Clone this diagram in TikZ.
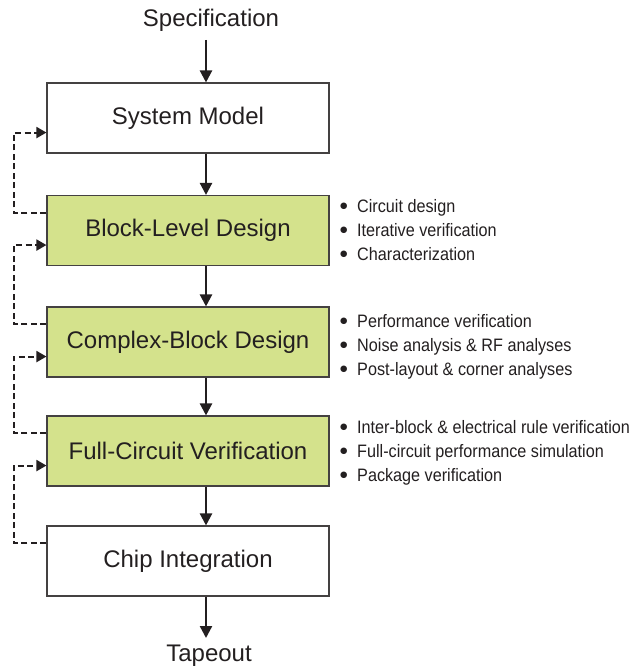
\documentclass[tikz,border=0pt]{standalone}
\usepackage{fontspec}
\setmainfont{Liberation Sans}
\newfontfamily\narrowfont{Liberation Sans}[FakeStretch=0.9]
\newfontfamily\symbolfont{DejaVu Sans}
\usetikzlibrary{arrows.meta,calc}
\definecolor{ink}{HTML}{231F20}
\definecolor{leaf}{RGB}{212,226,140}
\newcommand{\itemdot}{\makebox[17.5pt][l]{\hspace{0.5pt}\raisebox{3.6pt}{\symbolfont\fontsize{8.5}{8.5}\selectfont ●}}}
\tikzset{
  x=1pt, y=-1pt,
  stage/.style={draw=ink!85, line width=1.1pt, minimum width=282pt, minimum height=70pt,
    inner sep=0pt, font=\fontsize{24}{28}\selectfont, text=ink},
  greenstage/.style={stage, fill=leaf},
  endlabel/.style={font=\fontsize{24}{28}\selectfont, text=ink, inner sep=0pt},
  flow/.style={draw=ink, line width=2.3pt, -{Triangle[length=12pt,width=12pt]}},
  feedback/.style={draw=ink, line width=2pt, dash pattern=on 6pt off 3.5pt,
    -{Triangle[length=10pt,width=11pt]}},
  note/.style={anchor=base west, inner sep=0pt, text=ink,
    font=\narrowfont\fontsize{18}{20}\selectfont},
}
\begin{document}
\begin{tikzpicture}
\useasboundingbox (0,0) rectangle (644,669);

% main column of stages
\node[endlabel] (spec) at (211,20) {Specification};
\node[stage]      (sys)  at (188,118)   {System Model};
\node[greenstage] (blk)  at (188,230.5) {Block-Level Design};
\node[greenstage] (cplx) at (188,342)   {Complex-Block Design};
\node[greenstage] (full) at (188,451)   {Full-Circuit Verification};
\node[stage]      (chip) at (188,561)   {Chip Integration};
\node[endlabel] (tape) at (209,656) {Tapeout};

% vertical axis of the forward arrows and the feedback rail
\coordinate (ax) at (206,0);
\coordinate (rail) at (14,0);
\coordinate (specend) at (206,40);
\coordinate (tapeend) at (206,638);

\draw[flow] (specend) -- (sys.north -| ax);
\draw[flow] (sys.south -| ax) -- (blk.north -| ax);
\draw[flow] (blk.south -| ax) -- (cplx.north -| ax);
\draw[flow] (cplx.south -| ax) -- (full.north -| ax);
\draw[flow] (full.south -| ax) -- (chip.north -| ax);
\draw[flow] (chip.south -| ax) -- (tapeend);

% feedback loops on the left
\foreach \src/\dst in {blk/sys, cplx/blk, full/cplx, chip/full} {
  \draw[feedback] ([yshift=-18pt]\src.north west) -- ([yshift=-18pt]\src.north west -| rail)
    -- ([yshift=21pt]\dst.south west -| rail) -- ([yshift=21pt]\dst.south west);
}

% task notes beside the green stages
\node[note] (b1) at (339.5,212) {\itemdot Circuit design};
\node[note] (b2) at (339.5,236) {\itemdot Iterative verification};
\node[note] (b3) at (339.5,260) {\itemdot Characterization};
\node[note] (c1) at (339.5,327) {\itemdot Performance verification};
\node[note] (c2) at (339.5,351) {\itemdot Noise analysis \& RF analyses};
\node[note] (c3) at (339.5,375) {\itemdot Post-layout \& corner analyses};
\node[note] (f1) at (339.5,433) {\itemdot Inter-block \& electrical rule verification};
\node[note] (f2) at (339.5,457) {\itemdot Full-circuit performance simulation};
\node[note] (f3) at (339.5,481) {\itemdot Package verification};
\end{tikzpicture}
\end{document}
